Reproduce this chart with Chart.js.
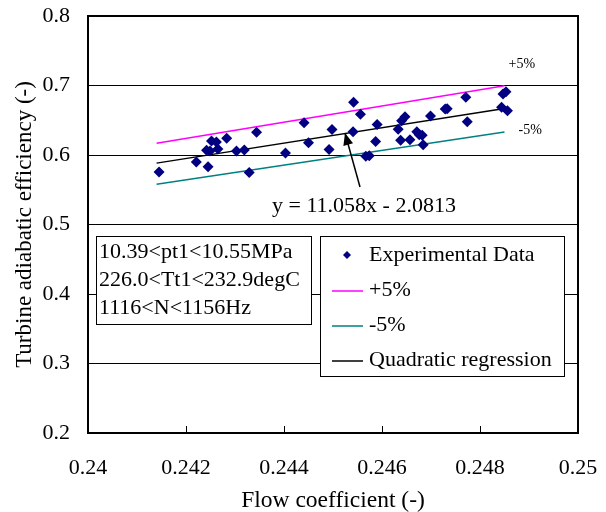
<!DOCTYPE html>
<html>
<head>
<meta charset="utf-8">
<script src="https://cdn.jsdelivr.net/npm/chart.js@4.4.1/dist/chart.umd.min.js"></script>
<style>
  html, body { margin: 0; padding: 0; background: #fff; }
  #wrap { width: 606px; height: 512px; }
</style>
</head>
<body>
<div id="wrap"><canvas id="myChart" width="606" height="512"></canvas></div>
<script>
// measured points (flow coefficient, efficiency)
const flowCoef = [0.24145, 0.24221, 0.24245, 0.24252, 0.24262, 0.24242, 0.24249, 0.24265, 0.24283, 0.24303,
  0.24319, 0.24329, 0.24344, 0.24403, 0.24441, 0.24450, 0.24492, 0.24498, 0.24542, 0.24556,
  0.24541, 0.24590, 0.24587, 0.24567, 0.24574, 0.24633, 0.24640, 0.24647, 0.24638, 0.24657,
  0.24671, 0.24676, 0.24682, 0.24684, 0.24699, 0.24729, 0.24733, 0.24771, 0.24774, 0.24847,
  0.24853, 0.24844, 0.24856];
const efficiency = [0.5755, 0.5899, 0.5832, 0.6201, 0.6187, 0.6068, 0.6058, 0.6086, 0.6240, 0.6058,
  0.6072, 0.5748, 0.6328, 0.6029, 0.6463, 0.6176, 0.6079, 0.6367, 0.6760, 0.6586,
  0.6334, 0.6439, 0.6194, 0.5981, 0.5989, 0.6370, 0.6494, 0.6551, 0.6213, 0.6219,
  0.6334, 0.6292, 0.6283, 0.6148, 0.6561, 0.6662, 0.6666, 0.6830, 0.6478, 0.6878,
  0.6911, 0.6686, 0.6637];

// regression line and the +-5% band, end points only
const lineX = [0.2414, 0.2485];
const regY = [0.5883, 0.6670];
const plusY = [0.6168, 0.6997];
const minusY = [0.5578, 0.6331];

const xTickLabels = ['0.24', '0.242', '0.244', '0.246', '0.248', '0.25'];
const yTickLabels = ['0.2', '0.3', '0.4', '0.5', '0.6', '0.7', '0.8'];
const infoLines = ['10.39<pt1<10.55MPa', '226.0<Tt1<232.9degC', '1116<N<1156Hz'];
const equationText = 'y = 11.058x - 2.0813';

const serif = '"Liberation Serif", "Times New Roman", serif';
Chart.defaults.font.family = serif;
Chart.defaults.font.size = 22;
Chart.defaults.color = '#000';

function toPoints(xs, ys) {
  return xs.map((x, i) => ({ x: x, y: ys[i] }));
}

// the tick padding would otherwise be added to the chart area margins
function noScalePadding(scale) {
  scale.paddingTop = 0;
  scale.paddingBottom = 0;
  scale.paddingLeft = 0;
  scale.paddingRight = 0;
}

// draws the frame, inner ticks, text boxes, labels and the legend
const extrasPlugin = {
  id: 'extras',
  afterDraw(chart) {
    const c = chart.ctx;
    const a = chart.chartArea;
    const xs = chart.scales.x;
    const ys = chart.scales.y;
    c.save();

    // plot frame
    c.strokeStyle = '#000';
    c.lineWidth = 2;
    c.strokeRect(a.left, a.top, a.right - a.left, a.bottom - a.top);

    // inward tick marks on the x axis
    c.lineWidth = 1;
    xs.ticks.forEach((t) => {
      const px = Math.round(xs.getPixelForValue(t.value)) + 0.5;
      c.beginPath();
      c.moveTo(px, a.bottom);
      c.lineTo(px, a.bottom - 7);
      c.stroke();
    });

    // small band labels
    c.fillStyle = '#000';
    c.font = '14px ' + serif;
    c.textBaseline = 'middle';
    c.textAlign = 'left';
    c.fillText('+5%', xs.getPixelForValue(lineX[1]) + 4, ys.getPixelForValue(plusY[1]) - 21);
    c.fillText('-5%', xs.getPixelForValue(lineX[1]) + 14, ys.getPixelForValue(minusY[1]) - 2);

    // equation and the arrow pointing at the fit line
    c.font = '22px ' + serif;
    c.fillText(equationText, 272, 206);
    const tipX = 345, tipY = 133, tailX = 360, tailY = 187;
    c.beginPath();
    c.moveTo(tailX, tailY);
    c.lineTo(tipX, tipY);
    c.lineWidth = 1.5;
    c.stroke();
    const ang = Math.atan2(tipY - tailY, tipX - tailX);
    c.beginPath();
    c.moveTo(tipX, tipY);
    c.lineTo(tipX - 12 * Math.cos(ang) + 5 * Math.sin(ang), tipY - 12 * Math.sin(ang) - 5 * Math.cos(ang));
    c.lineTo(tipX - 12 * Math.cos(ang) - 5 * Math.sin(ang), tipY - 12 * Math.sin(ang) + 5 * Math.cos(ang));
    c.closePath();
    c.fill();

    // conditions box
    c.lineWidth = 1;
    c.fillStyle = '#fff';
    c.fillRect(96, 236, 215, 88);
    c.strokeRect(96.5, 236.5, 215, 88);
    c.fillStyle = '#000';
    infoLines.forEach((s, i) => {
      c.fillText(s, 99, 252 + i * 28.3);
    });

    // legend box
    c.fillStyle = '#fff';
    c.fillRect(320, 236, 244, 140);
    c.strokeRect(320.5, 236.5, 244, 140);
    chart.data.datasets.forEach((ds, i) => {
      const ry = 255 + i * 35;
      if (ds.showLine) {
        c.strokeStyle = ds.borderColor;
        c.lineWidth = 1.5;
        c.beginPath();
        c.moveTo(332, ry + 1);
        c.lineTo(363, ry + 1);
        c.stroke();
      } else {
        c.fillStyle = ds.pointBackgroundColor;
        c.beginPath();
        c.moveTo(347, ry - 4);
        c.lineTo(351, ry);
        c.lineTo(347, ry + 4);
        c.lineTo(343, ry);
        c.closePath();
        c.fill();
      }
      c.fillStyle = '#000';
      c.fillText(ds.label, 369, ry);
    });

    c.restore();
  }
};

const ctx = document.getElementById('myChart');
let myChart = new Chart(ctx, {
  type: 'scatter',
  data: {
    datasets: [{
      label: 'Experimental Data',
      data: toPoints(flowCoef, efficiency),
      pointStyle: 'rectRot',
      pointRadius: 5.5,
      pointBackgroundColor: '#000080',
      pointBorderColor: '#000080',
      pointBorderWidth: 0,
      showLine: false
    }, {
      label: '+5%',
      data: toPoints(lineX, plusY),
      showLine: true,
      borderColor: '#ff00ff',
      borderWidth: 1.5,
      pointRadius: 0
    }, {
      label: '-5%',
      data: toPoints(lineX, minusY),
      showLine: true,
      borderColor: '#008080',
      borderWidth: 1.5,
      pointRadius: 0
    }, {
      label: 'Quadratic regression',
      data: toPoints(lineX, regY),
      showLine: true,
      borderColor: '#000000',
      borderWidth: 1.5,
      pointRadius: 0
    }]
  },
  options: {
    responsive: false,
    animation: false,
    layout: { padding: { left: 0, right: 28, top: 16, bottom: 0 } },
    plugins: {
      legend: { display: false },
      tooltip: { enabled: false }
    },
    scales: {
      x: {
        type: 'linear',
        min: 0.24,
        max: 0.25,
        afterFit: (scale) => { scale.height = 79; noScalePadding(scale); },
        afterBuildTicks: (scale) => {
          scale.ticks = xTickLabels.map((s) => ({ value: parseFloat(s) }));
        },
        grid: { display: false, drawTicks: false },
        border: { display: false },
        ticks: {
          color: '#000',
          padding: 22,
          maxRotation: 0,
          autoSkip: false,
          font: { family: serif, size: 22 },
          callback: (v, i) => xTickLabels[i]
        },
        title: {
          display: true,
          text: 'Flow coefficient (-)',
          color: '#000',
          font: { family: serif, size: 23.5, lineHeight: 1 },
          padding: { top: 0, bottom: -1 }
        }
      },
      y: {
        min: 0.2,
        max: 0.8,
        afterFit: (scale) => { scale.width = 88; noScalePadding(scale); },
        afterBuildTicks: (scale) => {
          scale.ticks = yTickLabels.map((s) => ({ value: parseFloat(s) }));
        },
        grid: { color: '#000', lineWidth: 1, drawTicks: false },
        border: { display: false },
        ticks: {
          color: '#000',
          padding: 18,
          autoSkip: false,
          font: { family: serif, size: 22 },
          callback: (v, i) => yTickLabels[i]
        },
        title: {
          display: true,
          text: 'Turbine adiabatic efficiency (-)',
          color: '#000',
          font: { family: serif, size: 23, lineHeight: 1 },
          padding: { top: 13, bottom: 0 }
        }
      }
    }
  },
  plugins: [extrasPlugin]
});
</script>
</body>
</html>
